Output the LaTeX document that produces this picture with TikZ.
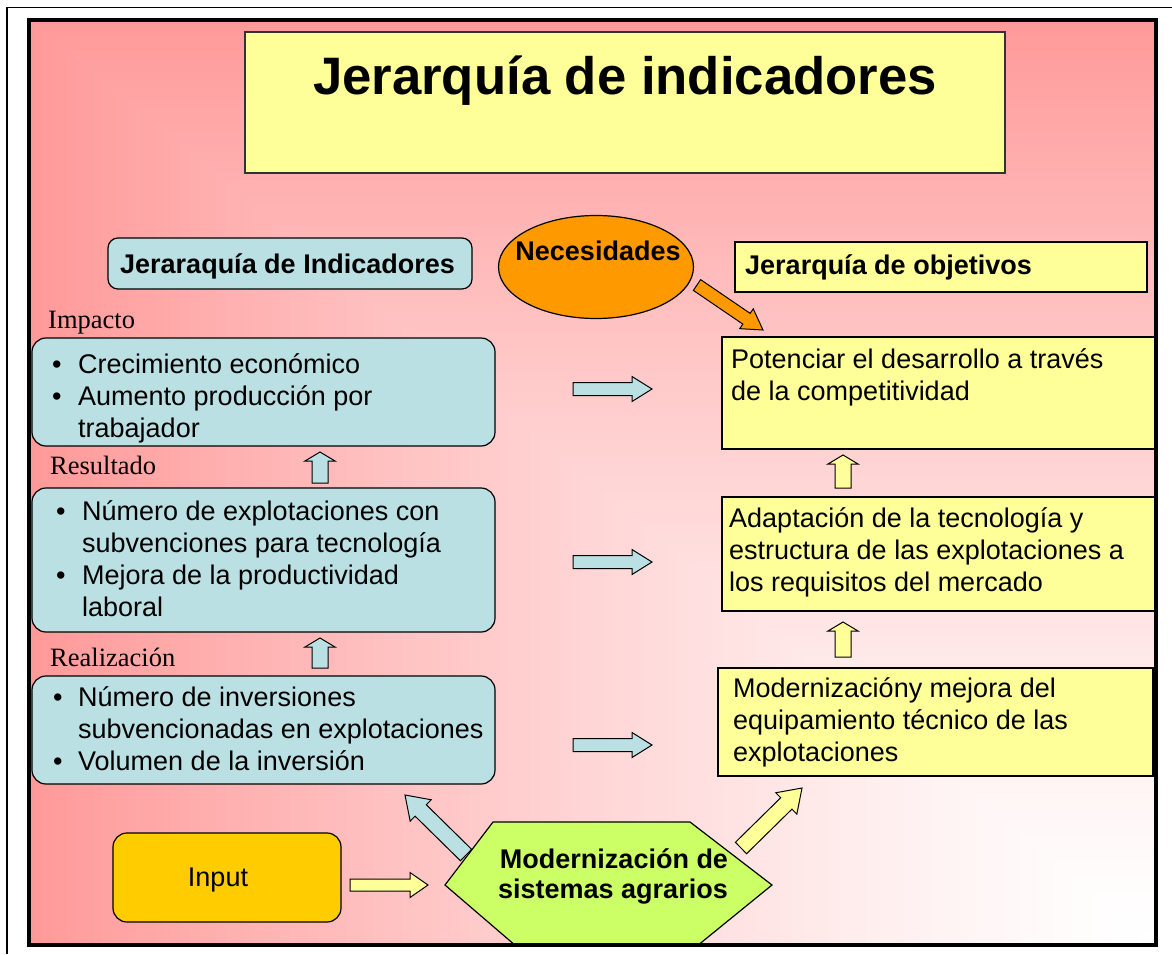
\documentclass[tikz,border=0pt]{standalone}
\usepackage{fontspec}
\setmainfont{Liberation Sans}
\newfontfamily\seriffam{Liberation Serif}
\usetikzlibrary{calc,shapes.geometric}
\definecolor{bgpink}{RGB}{255,153,153}
\definecolor{ylw}{RGB}{255,255,153}
\definecolor{lblue}{RGB}{187,224,227}
\definecolor{orng}{RGB}{255,153,0}
\definecolor{gold}{RGB}{255,204,0}
\definecolor{lgreen}{RGB}{204,255,102}
% pink-to-white fade towards the lower right corner (path box = 25bp..75bp)
\pgfdeclarefunctionalshading{cornerfade}{\pgfpointorigin}{\pgfpoint{100bp}{100bp}}{}{
  25 sub 50 div exch 25 sub 50 div 1 exch sub 2 copy sub abs add add 2 div
  abs 1.3 exp 0.4 mul 1 exch sub dup 1 3 1 roll
}
% block arrow: #1 style, #2 tail, #3 tip, #4 shaft half width, #5 head half width, #6 head length
\newcommand\blockarrow[6]{%
  \coordinate (bah) at ($(#3)!#6!(#2)$);
  \draw[#1] ($(#2)!#4!90:(#3)$) -- ($(bah)!#4!90:(#3)$) -- ($(bah)!#5!90:(#3)$) -- (#3)
    -- ($(bah)!#5!-90:(#3)$) -- ($(bah)!#4!-90:(#3)$) -- ($(#2)!#4!-90:(#3)$) -- cycle;
}
\begin{document}
\begin{tikzpicture}[x=1pt,y=-1pt,
  outl/.style={draw=black, line width=1.2pt},
  bluebox/.style={outl, fill=lblue, rounded corners=14pt, inner sep=0pt},
  ylwbox/.style={outl, fill=ylw, inner sep=0pt},
  txt/.style={inner sep=0pt, font=\fontsize{27}{32.3}\selectfont},
  btxt/.style={inner sep=0pt, font=\fontsize{27}{30}\selectfont\bfseries},
  lbl/.style={inner sep=0pt, font=\seriffam\fontsize{26.5}{30}\selectfont},
  arB/.style={draw=black, line width=1pt, fill=lblue},
  arY/.style={draw=black, line width=1pt, fill=ylw},
  arO/.style={draw=black, line width=1pt, fill=orng},
]
\useasboundingbox (0,0) rectangle (1172,954);
\fill[white] (0,0) rectangle (1172,954);
% outer thin frame
\draw[line width=1.6pt] (7,954) -- (7,7.5) -- (1172,7.5);
% background
\shade[shading=cornerfade] (29,20) rectangle (1156,945);

% title
\node[ylwbox, draw=black!80, line width=1.6pt, minimum width=760pt, minimum height=141pt] (title) at (625,102.5) {};
\node[inner sep=0pt, font=\fontsize{52.7}{60}\selectfont\bfseries, anchor=base] (titlet) at (625,94) {Jerarquía de indicadores};

% necesidades
\node[ellipse, outl, fill=orng, minimum width=195pt, minimum height=103pt, inner sep=0pt] (nec) at (596,267) {};
\node[btxt, anchor=base] (nect) at (598,260) {Necesidades};

% objetivos header
\node[ylwbox, minimum width=412pt, minimum height=50pt] (obj) at (941,267) {};
\node[btxt, anchor=base west] (objt) at (745,274) {Jerarquía de objetivos};

% indicadores header
\node[bluebox, rounded corners=10pt, minimum width=364pt, minimum height=51pt] (ind) at (290,263.5) {};
\node[btxt, anchor=base west] (indt) at (120,273) {Jeraraquía de Indicadores};

% level labels
\node[lbl, anchor=base west] (limp) at (48,328) {Impacto};
\node[lbl, anchor=base west] (lres) at (50,474) {Resultado};
\node[lbl, anchor=base west] (lrea) at (50,666) {Realización};

% left boxes
\node[bluebox, minimum width=463pt, minimum height=108pt] (b1) at (263.5,392) {};
\node[txt, anchor=base west] (b1t) at (52,373) {\begin{tabular}[t]{@{}p{26pt}@{}l@{}}\textbullet & Crecimiento económico\\ \textbullet & Aumento producción por\\ & trabajador\end{tabular}};

\node[bluebox, minimum width=463pt, minimum height=144pt] (b2) at (263.5,560) {};
\node[txt, anchor=base west] (b2t) at (56,520) {\begin{tabular}[t]{@{}p{26pt}@{}l@{}}\textbullet & Número de explotaciones con\\ & subvenciones para tecnología\\ \textbullet & Mejora de la productividad\\ & laboral\end{tabular}};

\node[bluebox, minimum width=463pt, minimum height=108pt] (b3) at (263.5,730) {};
\node[txt, anchor=base west] (b3t) at (53,706) {\begin{tabular}[t]{@{}p{25pt}@{}l@{}}\textbullet & Número de inversiones\\ & subvencionadas en explotaciones\\ \textbullet & Volumen de la inversión\end{tabular}};

% right boxes
\node[ylwbox, minimum width=433pt, minimum height=112pt] (r1) at (938.5,393) {};
\node[txt, anchor=base west] (r1t) at (731,368) {\begin{tabular}[t]{@{}l@{}}Potenciar el desarrollo a través\\ de la competitividad\end{tabular}};

\node[ylwbox, minimum width=433pt, minimum height=114pt] (r2) at (938.5,554) {};
\node[txt, anchor=base west] (r2t) at (729,527) {\begin{tabular}[t]{@{}l@{}}Adaptación de la tecnología y\\ estructura de las explotaciones a\\ los requisitos del mercado\end{tabular}};

\node[ylwbox, minimum width=435pt, minimum height=108pt] (r3) at (935.5,722) {};
\node[txt, anchor=base west] (r3t) at (733,697) {\begin{tabular}[t]{@{}l@{}}Modernizacióny mejora del\\ equipamiento técnico de las\\ explotaciones\end{tabular}};

% input
\node[outl, fill=gold, rounded corners=14pt, minimum width=228pt, minimum height=89pt, inner sep=0pt] (inp) at (227,877.5) {};
\node[txt, anchor=base] (inpt) at (218,886) {Input};

% hexagon
\draw[outl, fill=lgreen] (445,885) -- (493,822) -- (690,822) -- (772,885) -- (697,946) -- (516,946) -- cycle;
\node[btxt, anchor=base] (hext) at (614,868) {Modernización de};
\node[btxt, anchor=base] (hext2) at (613,898) {sistemas agrarios};

% arrow end points
\coordinate (aO1) at (697,285);  \coordinate (aO2) at (763,330);
\coordinate (aR1a) at (573,389); \coordinate (aR1b) at (652,389);
\coordinate (aR2a) at (573,562); \coordinate (aR2b) at (652,562);
\coordinate (aR3a) at (573,745); \coordinate (aR3b) at (652,745);
\coordinate (aU1a) at (320,483); \coordinate (aU1b) at (320,452);
\coordinate (aU2a) at (320,668); \coordinate (aU2b) at (320,638);
\coordinate (aY1a) at (843,488); \coordinate (aY1b) at (843,455);
\coordinate (aY2a) at (843,657); \coordinate (aY2b) at (843,622);
\coordinate (aIa) at (350,885);  \coordinate (aIb) at (428,885);
\coordinate (aDBa) at (466,855); \coordinate (aDBb) at (405,795);
\coordinate (aDYa) at (741,848); \coordinate (aDYb) at (802,788);

\blockarrow{arO}{aO1}{aO2}{6.5pt}{12pt}{20pt}
\blockarrow{arB}{aR1a}{aR1b}{6.5pt}{12.5pt}{20pt}
\blockarrow{arB}{aR2a}{aR2b}{6.5pt}{12.5pt}{20pt}
\blockarrow{arB}{aR3a}{aR3b}{6.5pt}{12.5pt}{20pt}
\blockarrow{arB}{aU1a}{aU1b}{8pt}{15pt}{9pt}
\blockarrow{arB}{aU2a}{aU2b}{8pt}{15pt}{9pt}
\blockarrow{arY}{aY1a}{aY1b}{8pt}{15pt}{9pt}
\blockarrow{arY}{aY2a}{aY2b}{8pt}{15pt}{9pt}
\blockarrow{arY}{aIa}{aIb}{6pt}{12.5pt}{18pt}
\blockarrow{arB}{aDBa}{aDBb}{8pt}{15pt}{22pt}
\blockarrow{arY}{aDYa}{aDYb}{8pt}{15pt}{22pt}

% thick inner frame
\draw[line width=4pt] (29,20) rectangle (1156,945);
\end{tikzpicture}
\end{document}
